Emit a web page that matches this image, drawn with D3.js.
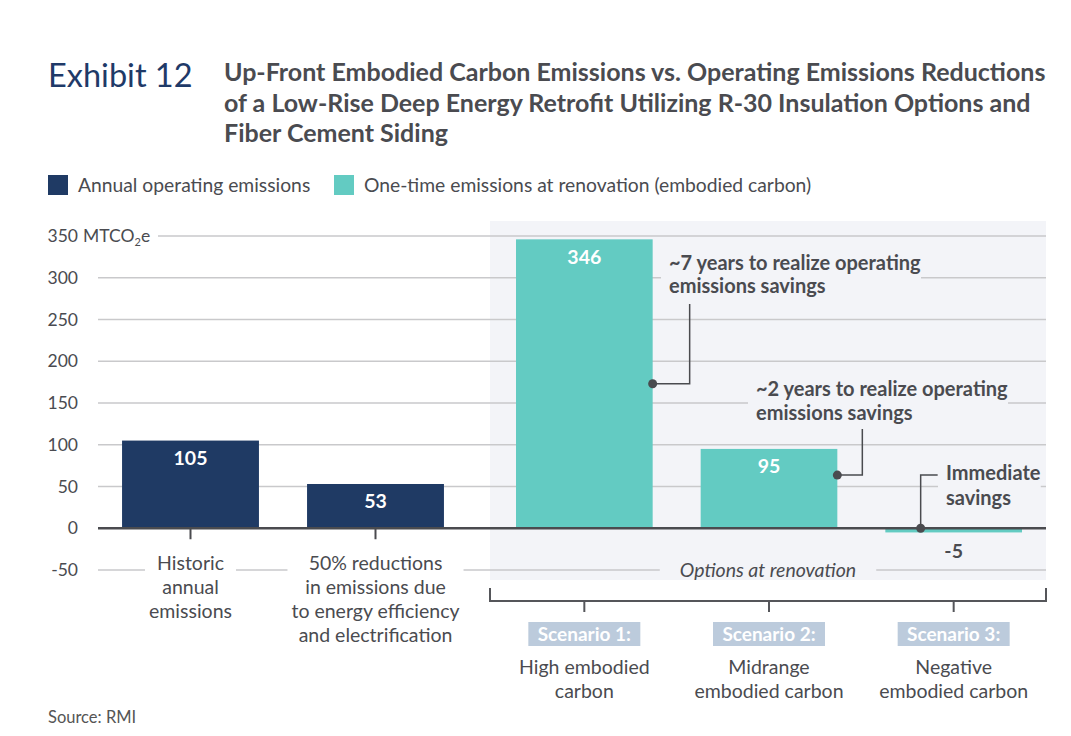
<!DOCTYPE html>
<html>
<head>
<meta charset="utf-8">
<script src="https://cdn.jsdelivr.net/npm/d3@7/dist/d3.min.js"></script>
<style>
  html, body { margin: 0; padding: 0; background: #fff; }
  svg { display: block; font-family: "Lato", "Noto Sans", sans-serif; }
</style>
</head>
<body>
<svg id="chart" width="1071" height="736"></svg>
<script>
// ---------------- DATA ----------------
const exhibitLabel = "Exhibit 12";
const titleLines = [
  "Up-Front Embodied Carbon Emissions vs. Operating Emissions Reductions",
  "of a Low-Rise Deep Energy Retrofit Utilizing R-30 Insulation Options and",
  "Fiber Cement Siding"
];
const seriesNames = ["Annual operating emissions", "One-time emissions at renovation (embodied carbon)"];
const barKeys = ["historic", "reduced", "s1", "s2", "s3"];
const barValues = [105, 53, 346, 95, -5];
const barSeries = [0, 0, 1, 1, 1];           // index into seriesNames
const barGroups = ["current", "current", "renovation", "renovation", "renovation"];
const categoryLines = [
  ["Historic", "annual", "emissions"],
  ["50% reductions", "in emissions due", "to energy efficiency", "and electrification"],
  ["High embodied", "carbon"],
  ["Midrange", "embodied carbon"],
  ["Negative", "embodied carbon"]
];
const scenarioTags = [null, null, "Scenario 1:", "Scenario 2:", "Scenario 3:"];
const groupLabel = "Options at renovation";
const yTicks = [-50, 0, 50, 100, 150, 200, 250, 300, 350];
const yUnit = ["MTCO", "2", "e"];
const annotations = [
  { bar: "s1", lines: ["~7 years to realize operating", "emissions savings"] },
  { bar: "s2", lines: ["~2 years to realize operating", "emissions savings"] },
  { bar: "s3", lines: ["Immediate", "savings"] }
];
const sourceText = "Source: RMI";

// ---------------- STYLE ----------------
const colors = ["#1f3a64", "#63cbc2"];
const textColor = "#4a4b50";
const gridColor = "#c9c9cb";
const axisColor = "#4a4b4f";
const panelColor = "#f3f4f8";
const tagColor = "#bccbdc";
const FONT = '"Lato", "Noto Sans", sans-serif';
const BODY = 19.5;

const svg = d3.select("#chart");

// ---------------- SCALES ----------------
const plotLeft = 98, plotRight = 1046, panelLeft = 490, panelTop = 221, panelBottom = 580;
const y = d3.scaleLinear().domain([-50, 350]).range([570, 236]);
const leftKeys = barKeys.filter((k, i) => barGroups[i] === "current");
const rightKeys = barKeys.filter((k, i) => barGroups[i] === "renovation");
const xLeft = d3.scaleBand().domain(leftKeys).range([plotLeft, 468]).paddingInner(0.26).paddingOuter(0.13);
const xRight = d3.scaleBand().domain(rightKeys).range([492, plotRight]).paddingInner(0.26).paddingOuter(0.13);
const xScale = k => (leftKeys.includes(k) ? xLeft : xRight);
const bx = k => xScale(k)(k);
const bw = k => xScale(k).bandwidth();
const cx = k => bx(k) + bw(k) / 2;

const bars = barKeys.map((k, i) => ({ key: k, value: barValues[i], series: barSeries[i], lines: categoryLines[i], tag: scenarioTags[i] }));

// ---------------- TITLE ----------------
svg.append("text").attr("x", 48).attr("y", 87)
  .attr("font-size", 32.5).attr("fill", "#1f3a68").attr("font-weight", 400)
  .text(exhibitLabel);
svg.append("g").selectAll("text").data(titleLines).join("text")
  .attr("x", 224).attr("y", (d, i) => 81 + i * 30.5)
  .attr("font-size", 25).attr("font-weight", 700).attr("fill", textColor)
  .text(d => d);

// ---------------- LEGEND ----------------
const legendX = [48, 334];
const lg = svg.append("g").selectAll("g").data(seriesNames).join("g")
  .attr("transform", (d, i) => `translate(${legendX[i]},175)`);
lg.append("rect").attr("width", 20).attr("height", 20).attr("fill", (d, i) => colors[i]);
lg.append("text").attr("x", 30).attr("y", 17).attr("font-size", 19.3).attr("fill", textColor).text(d => d);

// ---------------- PANEL ----------------
svg.append("rect").attr("x", panelLeft).attr("y", panelTop).attr("width", plotRight - panelLeft).attr("height", panelBottom - panelTop)
  .attr("fill", panelColor);

// ---------------- GRID ----------------
svg.append("g").selectAll("line").data(yTicks.filter(t => t !== 0)).join("line")
  .attr("x1", d => d === 350 ? 158 : plotLeft).attr("x2", plotRight)
  .attr("y1", d => y(d)).attr("y2", d => y(d))
  .attr("stroke", gridColor).attr("stroke-width", 1.5);

// y axis labels via d3 axis
const yAxis = svg.append("g").attr("transform", "translate(78,0)")
  .call(d3.axisLeft(y).tickValues(yTicks).tickSize(0).tickPadding(0).tickFormat(d => String(d)));
yAxis.select(".domain").remove();
yAxis.selectAll("text").attr("font-size", 17.5).attr("fill", textColor).attr("font-family", FONT);
const unit = svg.append("text").attr("x", 83).attr("y", y(350)).attr("dy", "0.32em")
  .attr("font-size", 17.5).attr("fill", textColor);
unit.append("tspan").text(yUnit[0]);
unit.append("tspan").attr("font-size", 11).attr("dy", 4).text(yUnit[1]);
unit.append("tspan").attr("dy", -4).text(yUnit[2]);

// ---------------- BARS ----------------
svg.append("g").selectAll("rect").data(bars).join("rect")
  .attr("x", d => bx(d.key)).attr("width", d => bw(d.key))
  .attr("y", d => y(Math.max(0, d.value))).attr("height", d => Math.abs(y(d.value) - y(0)))
  .attr("fill", d => colors[d.series]);

// value labels
svg.append("g").selectAll("text").data(bars).join("text")
  .attr("x", d => cx(d.key))
  .attr("y", d => d.value >= 0 ? y(d.value) + 24.5 : y(d.value) + 26)
  .attr("text-anchor", "middle").attr("font-size", 19.5).attr("font-weight", 700)
  .attr("fill", d => d.value >= 0 ? "#fff" : textColor)
  .text(d => String(d.value));

// zero line
svg.append("line").attr("x1", plotLeft).attr("x2", plotRight).attr("y1", y(0)).attr("y2", y(0))
  .attr("stroke", axisColor).attr("stroke-width", 2.5);

// ticks under left group
svg.append("g").selectAll("line").data(leftKeys).join("line")
  .attr("x1", d => cx(d)).attr("x2", d => cx(d)).attr("y1", y(0)).attr("y2", y(0) + 11)
  .attr("stroke", axisColor).attr("stroke-width", 2);

// ---------------- CATEGORY LABELS (left group) ----------------
const leftBars = bars.filter(d => leftKeys.includes(d.key));
const catG = svg.append("g").selectAll("g").data(leftBars).join("g");
catG.each(function (d) {
  const g = d3.select(this);
  const bg = g.append("rect").attr("fill", "#fff");
  const t = g.append("text").attr("text-anchor", "middle").attr("font-size", BODY).attr("fill", textColor);
  t.selectAll("tspan").data(d.lines).join("tspan")
    .attr("x", cx(d.key)).attr("y", (l, i) => 570 + i * 24).text(l => l);
  const b = t.node().getBBox();
  bg.attr("x", b.x - 4).attr("y", b.y).attr("width", b.width + 8).attr("height", b.height);
});

// group label
{
  const g = svg.append("g");
  const bg = g.append("rect").attr("fill", panelColor);
  const t = g.append("text").attr("x", (panelLeft + plotRight) / 2).attr("y", 577)
    .attr("text-anchor", "middle").attr("font-size", BODY).attr("font-style", "italic").attr("fill", textColor)
    .text(groupLabel);
  const b = t.node().getBBox();
  bg.attr("x", b.x - 20).attr("y", b.y).attr("width", b.width + 40)
    .attr("height", Math.min(b.y + b.height, panelBottom) - b.y);
}

// bracket
const brY = 601;
svg.append("path")
  .attr("d", `M${panelLeft},588V${brY}H${plotRight}V588`)
  .attr("fill", "none").attr("stroke", "#55565a").attr("stroke-width", 2);
svg.append("g").selectAll("line").data(rightKeys).join("line")
  .attr("x1", d => cx(d)).attr("x2", d => cx(d)).attr("y1", brY).attr("y2", brY + 11)
  .attr("stroke", "#55565a").attr("stroke-width", 2);

// scenario tags and descriptions
const rightBars = bars.filter(d => rightKeys.includes(d.key));
const scG = svg.append("g").selectAll("g").data(rightBars).join("g");
scG.each(function (d) {
  const g = d3.select(this);
  g.append("rect").attr("x", cx(d.key) - 56).attr("y", 622).attr("width", 112).attr("height", 24).attr("fill", tagColor);
  g.append("text").attr("x", cx(d.key)).attr("y", 641).attr("text-anchor", "middle")
    .attr("font-size", 19).attr("font-weight", 700).attr("fill", "#fff").text(d.tag);
  g.append("text").attr("text-anchor", "middle").attr("font-size", BODY).attr("fill", textColor)
    .selectAll("tspan").data(d.lines).join("tspan")
    .attr("x", cx(d.key)).attr("y", (l, i) => 674 + i * 24).text(l => l);
});

// ---------------- ANNOTATIONS ----------------
const annoG = svg.append("g");
function annoText(x, yTop, lines, lh) {
  const g = annoG.append("g");
  const bg = g.append("rect").attr("fill", panelColor);
  const t = g.append("text").attr("font-size", 20).attr("font-weight", 700).attr("fill", textColor);
  t.selectAll("tspan").data(lines).join("tspan").attr("x", x).attr("y", (l, i) => yTop + i * lh).text(l => l);
  const b = t.node().getBBox();
  bg.attr("x", b.x - 8).attr("y", b.y).attr("width", b.width + 8).attr("height", b.height);
}
function dot(x, yy) {
  annoG.append("circle").attr("cx", x).attr("cy", yy).attr("r", 4.5).attr("fill", axisColor);
}
function conn(d) {
  annoG.append("path").attr("d", d).attr("fill", "none").attr("stroke", axisColor).attr("stroke-width", 1.5);
}
// annotation 1: scenario 1
{
  const a = annotations[0], k = a.bar, v = barValues[barKeys.indexOf(k)];
  const px = bx(k) + bw(k), py = y(v / 2);
  annoText(669, 269.5, a.lines, 23.5);
  conn(`M${px},${py}H${px + 37}V304`);
  dot(px, py);
}
// annotation 2: scenario 2
{
  const a = annotations[1], k = a.bar, v = barValues[barKeys.indexOf(k)];
  const px = bx(k) + bw(k), py = y(v * 0.67);
  annoText(756, 396, a.lines, 23.5);
  conn(`M${px},${py}H${px + 25}V429`);
  dot(px, py);
}
// annotation 3: scenario 3
{
  const a = annotations[2], k = a.bar;
  const px = cx(k) - 33, py = y(0);
  annoText(946, 480, a.lines, 25);
  conn(`M${px},${py}V475H${px + 17}`);
  dot(px, py);
}

// ---------------- SOURCE ----------------
svg.append("text").attr("x", 48).attr("y", 723).attr("font-size", 16.5).attr("fill", "#555").text(sourceText);
</script>
</body>
</html>
